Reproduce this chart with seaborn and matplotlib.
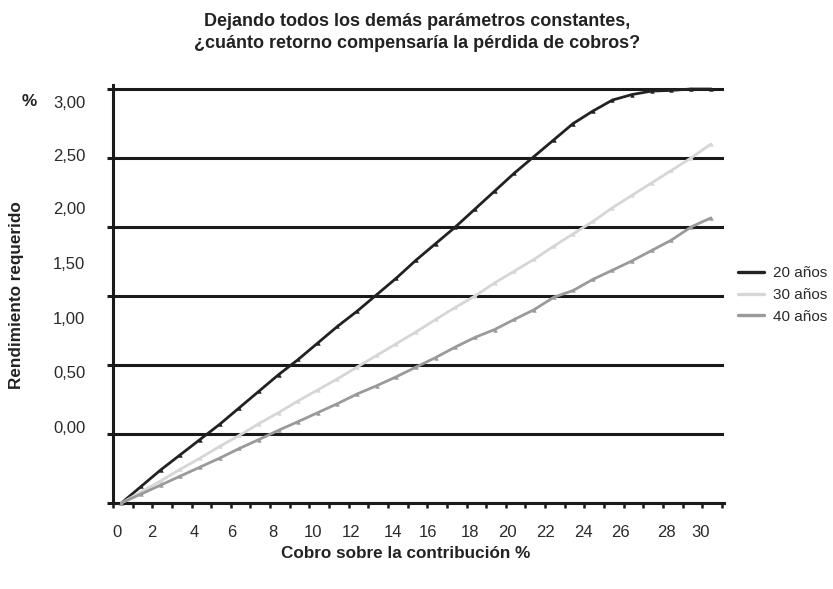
import numpy as np
import pandas as pd
import seaborn as sns
import matplotlib
matplotlib.use("Agg")
import matplotlib.pyplot as plt
from matplotlib.lines import Line2D

# Cobro sobre la contribución (%)
cobro = list(range(0, 31))

# Rendimiento requerido (%) para cada horizonte
r20 = [0.00, 0.12, 0.24, 0.35, 0.46, 0.57, 0.69, 0.81, 0.93, 1.04, 1.16,
       1.28, 1.39, 1.51, 1.63, 1.76, 1.88, 2.00, 2.13, 2.26, 2.39, 2.51,
       2.63, 2.75, 2.84, 2.92, 2.96, 2.985, 2.99, 3.00, 3.00]
r30 = [0.00, 0.08, 0.16, 0.245, 0.325, 0.41, 0.49, 0.575, 0.655, 0.74, 0.82,
       0.90, 0.985, 1.07, 1.155, 1.24, 1.33, 1.417, 1.50, 1.595, 1.68, 1.765,
       1.86, 1.95, 2.04, 2.14, 2.23, 2.32, 2.41, 2.50, 2.60]
r40 = [0.00, 0.065, 0.13, 0.195, 0.26, 0.325, 0.395, 0.46, 0.527, 0.59, 0.655,
       0.72, 0.79, 0.85, 0.915, 0.985, 1.054, 1.13, 1.20, 1.257, 1.33, 1.40,
       1.49, 1.54, 1.62, 1.687, 1.755, 1.83, 1.905, 2.00, 2.065]

series_names = ["20 años", "30 años", "40 años"]
series_colors = ["#222222", "#d6d6d6", "#9a9a9a"]

# Etiquetas del eje Y
ytick_labels = ["3,00", "2,50", "2,00", "1,50", "1,00", "0,50", "0,00"]
ytick_label_pos = [2.908, 2.524, 2.139, 1.740, 1.339, 0.948, 0.549]
# Líneas horizontales de referencia
ygrid = [0.0, 0.5, 1.0, 1.5, 2.0, 2.5, 3.0]

# Etiquetas del eje X
xtick_labels = ["0", "2", "4", "6", "8", "10", "12", "14", "16", "18", "20",
                "22", "24", "26", "28", "30"]
xtick_label_pos = [-0.24, 1.54, 3.71, 5.61, 7.70, 9.77, 11.67, 13.81, 15.62,
                   17.75, 19.67, 21.60, 23.52, 25.43, 27.76, 29.49]

df = pd.DataFrame({
    "cobro": cobro * 3,
    "rendimiento": r20 + r30 + r40,
    "serie": [series_names[0]] * len(cobro) + [series_names[1]] * len(cobro)
             + [series_names[2]] * len(cobro),
})

sns.set_theme(style="white")
plt.rcParams["font.family"] = ["Liberation Sans", "DejaVu Sans"]

fig = plt.figure(figsize=(8.33, 5.89), dpi=100)
ax = fig.add_axes([113 / 833, 1 - 503 / 589, (724 - 113) / 833, (503 - 85) / 589])

sns.lineplot(data=df, x="cobro", y="rendimiento", hue="serie",
             hue_order=series_names, palette=dict(zip(series_names, series_colors)),
             linewidth=2.0, marker="^", markersize=3.2, markeredgewidth=0,
             legend=False, ax=ax, clip_on=False, zorder=3)

ax.set_xlim(-0.43, 30.68)
ax.set_ylim(0, 3.029)

# Tick marks on the axes (no labels), labels as separate minor ticks
ax.set_xticks(np.arange(32) - 0.43)
ax.set_xticklabels([])
ax.set_xticks(xtick_label_pos, minor=True)
ax.set_xticklabels(xtick_labels, minor=True)
ax.tick_params(axis="x", which="major", direction="out", length=3.8, width=1.8,
               color="#1a1a1a", bottom=True)
ax.tick_params(axis="x", which="minor", length=0, pad=16, labelsize=12,
               labelcolor="#2a2a2a")

ax.set_yticks(ygrid)
ax.set_yticklabels([])
ax.set_yticks(ytick_label_pos, minor=True)
ax.set_yticklabels(ytick_labels, minor=True)
ax.tick_params(axis="y", which="major", direction="out", length=4.3, width=2.2,
               color="#1a1a1a", left=True)
ax.tick_params(axis="y", which="minor", length=0, pad=20, labelsize=12,
               labelcolor="#2a2a2a")

ax.grid(axis="y", which="major", color="#1a1a1a", linewidth=2.2)
ax.grid(axis="x", visible=False)
ax.set_axisbelow(True)

for side in ["top", "right"]:
    ax.spines[side].set_visible(False)
for side in ["left", "bottom"]:
    ax.spines[side].set_color("#1a1a1a")
    ax.spines[side].set_linewidth(2.2)

ax.set_xlabel("")
ax.set_ylabel("")

handles = [Line2D([0], [0], color=c, linewidth=2.4) for c in series_colors]
fig.legend(handles, series_names, loc="center left",
           bbox_to_anchor=(724 / 833, 1 - 295 / 589), frameon=False,
           fontsize=11, handlelength=1.75, handletextpad=0.55,
           labelspacing=0.5, labelcolor="#2a2a2a")

fig.text(0.5006, 1 - 32.5 / 589,
         "Dejando todos los demás parámetros constantes,\n"
         "¿cuánto retorno compensaría la pérdida de cobros?",
         ha="center", va="center", fontsize=13, fontweight="bold",
         linespacing=1.4, color="#222222")
fig.text(0.0204, 1 - 295 / 589, "Rendimiento requerido", rotation=90,
         ha="center", va="center", fontsize=12.3, fontweight="bold",
         color="#222222")
fig.text(405.5 / 833, 1 - 553 / 589, "Cobro sobre la contribución %",
         ha="center", va="center", fontsize=12.3, fontweight="bold",
         color="#222222")
fig.text(29 / 833, 1 - 101 / 589, "%", ha="center", va="center",
         fontsize=12.3, fontweight="bold", color="#222222")

fig.savefig("out.png", dpi=100, facecolor="white")
